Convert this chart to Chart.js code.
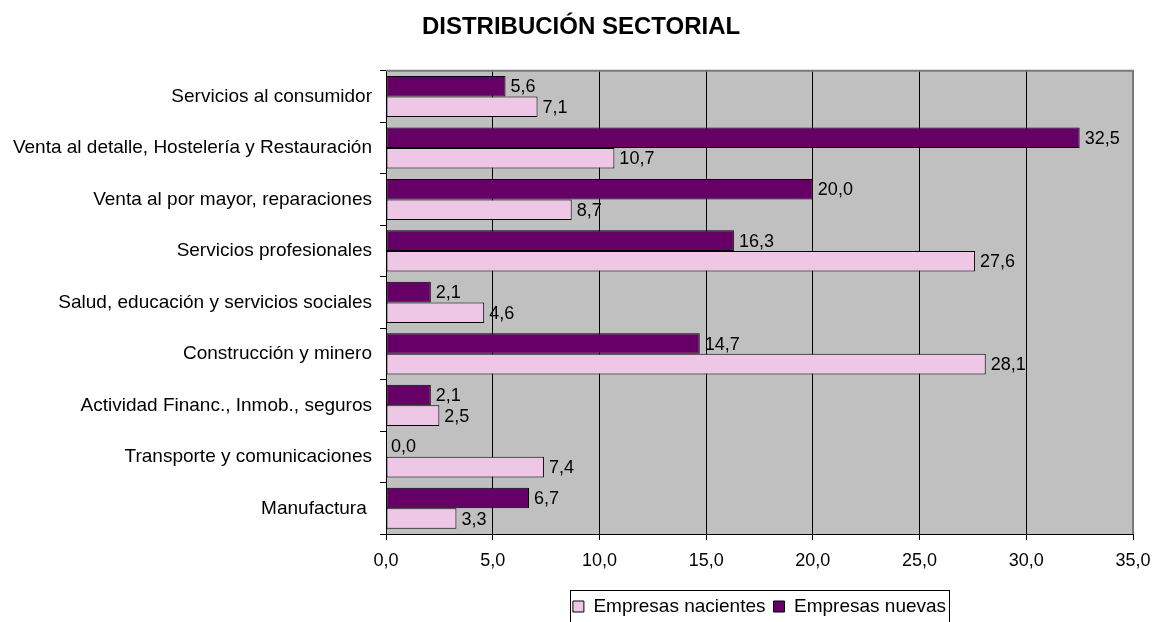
<!DOCTYPE html>
<html>
<head>
<meta charset="utf-8">
<script src="https://cdn.jsdelivr.net/npm/chart.js@4/dist/chart.umd.min.js"></script>
<style>
  html, body { margin: 0; padding: 0; background: #ffffff; }
  #wrap { width: 1158px; height: 622px; position: relative; }
</style>
</head>
<body>
<div id="wrap"><canvas id="c" width="1158" height="622"></canvas></div>
<script>
const titleText = 'DISTRIBUCIÓN SECTORIAL';
const categories = [
  'Servicios al consumidor',
  'Venta al detalle, Hostelería y Restauración',
  'Venta al por mayor, reparaciones',
  'Servicios profesionales',
  'Salud, educación y servicios sociales',
  'Construcción y minero',
  'Actividad Financ., Inmob., seguros',
  'Transporte y comunicaciones',
  'Manufactura '
];
const empresasNuevas = [5.6, 32.5, 20.0, 16.3, 2.1, 14.7, 2.1, 0.0, 6.7];
const empresasNacientes = [7.1, 10.7, 8.7, 27.6, 4.6, 28.1, 2.5, 7.4, 3.3];
const seriesNames = ['Empresas nuevas', 'Empresas nacientes'];
const xMin = 0, xMax = 35, xStep = 5;

const FONT = "'Liberation Sans', Arial, sans-serif";
const fmt = v => Number(v).toFixed(1).replace('.', ',');

const plotBg = {
  id: 'plotBg',
  beforeDraw(chart) {
    const {ctx, chartArea: a} = chart;
    ctx.save();
    ctx.fillStyle = '#C0C0C0';
    ctx.fillRect(a.left, a.top, a.right - a.left, a.bottom - a.top);
    ctx.restore();
  },
  afterDraw(chart) {
    const {ctx, chartArea: a} = chart;
    ctx.save();
    ctx.strokeStyle = '#7a7a7a';
    ctx.lineWidth = 2;
    ctx.beginPath();
    ctx.moveTo(a.left, a.top);
    ctx.lineTo(a.right, a.top);
    ctx.lineTo(a.right, a.bottom);
    ctx.stroke();
    const lg = chart.legend;
    if (lg && lg.legendHitBoxes && lg.legendHitBoxes.length) {
      const hb = lg.legendHitBoxes;
      let l = Infinity, r = -Infinity, t = Infinity;
      hb.forEach(h => { l = Math.min(l, h.left); r = Math.max(r, h.left + h.width); t = Math.min(t, h.top); });
      ctx.strokeStyle = '#000';
      ctx.lineWidth = 1;
      ctx.strokeRect(Math.round(l) - 2.5, Math.round(t) - 6.5, Math.round(r - l) + 6, 40);
    }
    ctx.restore();
  }
};

const valueLabels = {
  id: 'valueLabels',
  afterDatasetsDraw(chart) {
    const {ctx} = chart;
    ctx.save();
    ctx.font = '18px ' + FONT;
    ctx.fillStyle = '#000';
    ctx.textAlign = 'left';
    ctx.textBaseline = 'middle';
    chart.data.datasets.forEach((ds, di) => {
      const meta = chart.getDatasetMeta(di);
      meta.data.forEach((el, i) => {
        ctx.fillText(fmt(ds.data[i]), el.x + 5, el.y + 1);
      });
    });
    ctx.restore();
  }
};

new Chart(document.getElementById('c'), {
  type: 'bar',
  data: {
    labels: categories,
    datasets: [
      {
        label: seriesNames[0],
        data: empresasNuevas,
        backgroundColor: '#660066',
        borderColor: '#000000',
        borderWidth: 1,
        borderSkipped: false,
        categoryPercentage: 0.8,
        barPercentage: 1.0
      },
      {
        label: seriesNames[1],
        data: empresasNacientes,
        backgroundColor: '#EEC6E6',
        borderColor: '#000000',
        borderWidth: 1,
        borderSkipped: false,
        categoryPercentage: 0.8,
        barPercentage: 1.0
      }
    ]
  },
  options: {
    indexAxis: 'y',
    responsive: false,
    animation: false,
    devicePixelRatio: 1,
    layout: { padding: { left: 4, right: 0, top: 0, bottom: -4 } },
    plugins: {
      title: {
        display: true,
        text: titleText,
        color: '#000',
        font: { family: FONT, size: 24, weight: 'bold' },
        padding: { top: 13, bottom: 29 }
      },
      legend: {
        display: true,
        position: 'bottom',
        fullSize: false,
        reverse: true,
        labels: {
          color: '#000',
          font: { family: FONT, size: 19 },
          boxWidth: 11,
          boxHeight: 11,
          padding: 8,
          generateLabels(chart) {
            return chart.data.datasets.map((ds, i) => ({
              text: ds.label,
              fillStyle: ds.backgroundColor,
              strokeStyle: '#000',
              lineWidth: 1,
              hidden: false,
              datasetIndex: i
            }));
          }
        }
      },
      tooltip: { enabled: false }
    },
    scales: {
      x: {
        min: xMin,
        max: xMax,
        ticks: {
          stepSize: xStep,
          color: '#000',
          font: { family: FONT, size: 18 },
          padding: 10,
          maxRotation: 0,
          callback: v => fmt(v)
        },
        grid: { color: '#000', lineWidth: 1, tickLength: 6, drawOnChartArea: true },
        border: { display: true, color: '#000', width: 1 },
        afterFit(s) { s.height = 55; s.paddingRight = 25; }
      },
      y: {
        ticks: {
          color: '#000',
          font: { family: FONT, size: 19 },
          padding: 8,
          autoSkip: false
        },
        grid: { color: '#000', lineWidth: 1, tickLength: 6, drawOnChartArea: false, offset: true },
        border: { display: true, color: '#000', width: 1 },
        afterFit(s) { s.width = 382; }
      }
    }
  },
  plugins: [plotBg, valueLabels]
});
</script>
</body>
</html>
